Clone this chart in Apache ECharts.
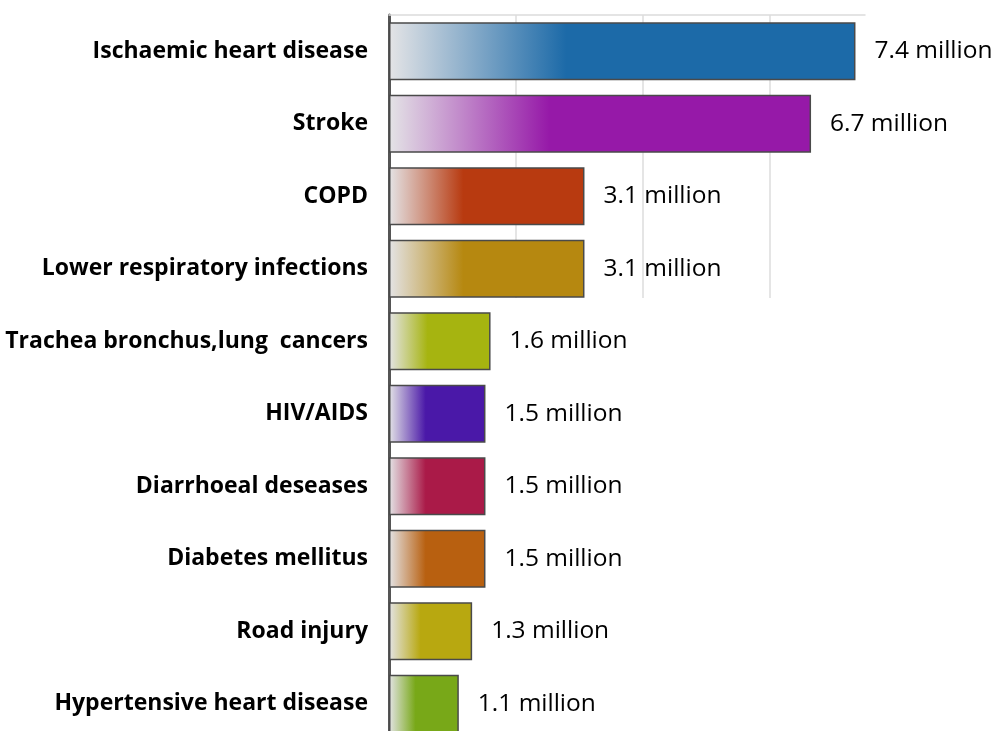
<!DOCTYPE html>
<html>
<head>
<meta charset="utf-8">
<script src="https://cdn.jsdelivr.net/npm/echarts@6/dist/echarts.min.js"></script>
<style>html,body{margin:0;padding:0;background:#fff}#c{width:1000px;height:731px}</style>
</head>
<body>
<div id="c"></div>
<script>
const categories = ['Ischaemic heart disease','Stroke','COPD','Lower respiratory infections','Trachea bronchus,lung  cancers','HIV/AIDS','Diarrhoeal deseases','Diabetes mellitus','Road injury','Hypertensive heart disease'];
const values = [7.35, 6.65, 3.08, 3.08, 1.6, 1.52, 1.52, 1.52, 1.31, 1.1];
const valueLabels = ['7.4 million','6.7 million','3.1 million','3.1 million','1.6 million','1.5 million','1.5 million','1.5 million','1.3 million','1.1 million'];
const barColors = ['#1c6aa8','#9619a8','#b83a10','#b68810','#a6b410','#4a18a8','#aa1a48','#b86010','#b8a810','#78a818'];

const chart = echarts.init(document.getElementById('c'));
const data = values.map((v, i) => ({
  value: v,
  itemStyle: {
    color: new echarts.graphic.LinearGradient(0, 0, 1, 0, [
      {offset: 0, color: '#e4e4e6'},
      {offset: 0.38, color: barColors[i]},
      {offset: 1, color: barColors[i]}
    ])
  },
  label: {formatter: valueLabels[i]}
}));
chart.setOption({
  animation: false,
  grid: [
    {left: 389, top: 15, width: 476, height: 725, containLabel: false, outerBoundsMode: 'none'},
    {left: 389, top: 15, width: 476, height: 283, containLabel: false, outerBoundsMode: 'none'}
  ],
  xAxis: [{
    gridIndex: 0, type: 'value', min: 0, max: 7.5, interval: 2, position: 'top',
    axisLine: {show: false}, axisTick: {show: false}, axisLabel: {show: false},
    splitLine: {show: false}
  }, {
    gridIndex: 1, type: 'value', min: 0, max: 7.5, interval: 2, position: 'top',
    axisLine: {show: true, onZero: false, lineStyle: {color: '#dcdcdc', width: 1.5}},
    axisTick: {show: false}, axisLabel: {show: false},
    splitLine: {show: true, showMaxLine: false, showMinLine: false, lineStyle: {color: '#dcdcdc', width: 1.5}}
  }],
  yAxis: [{
    gridIndex: 0, type: 'category', inverse: true, data: categories,
    axisLine: {show: true, lineStyle: {color: '#555', width: 3}},
    axisTick: {show: false},
    axisLabel: {color: '#000', fontFamily: 'Open Sans', fontWeight: 'bold', fontSize: 23, margin: 21}
  }, {
    gridIndex: 1, type: 'value', min: 0, max: 1, show: false
  }],
  series: [{
    type: 'bar', xAxisIndex: 0, yAxisIndex: 0, data: data, barCategoryGap: '20%', z: 3,
    itemStyle: {borderColor: '#4a4a4a', borderWidth: 1.5},
    label: {show: true, position: 'right', distance: 19, color: '#000', fontFamily: 'Open Sans', fontSize: 24.5}
  }]
});
</script>
</body>
</html>
